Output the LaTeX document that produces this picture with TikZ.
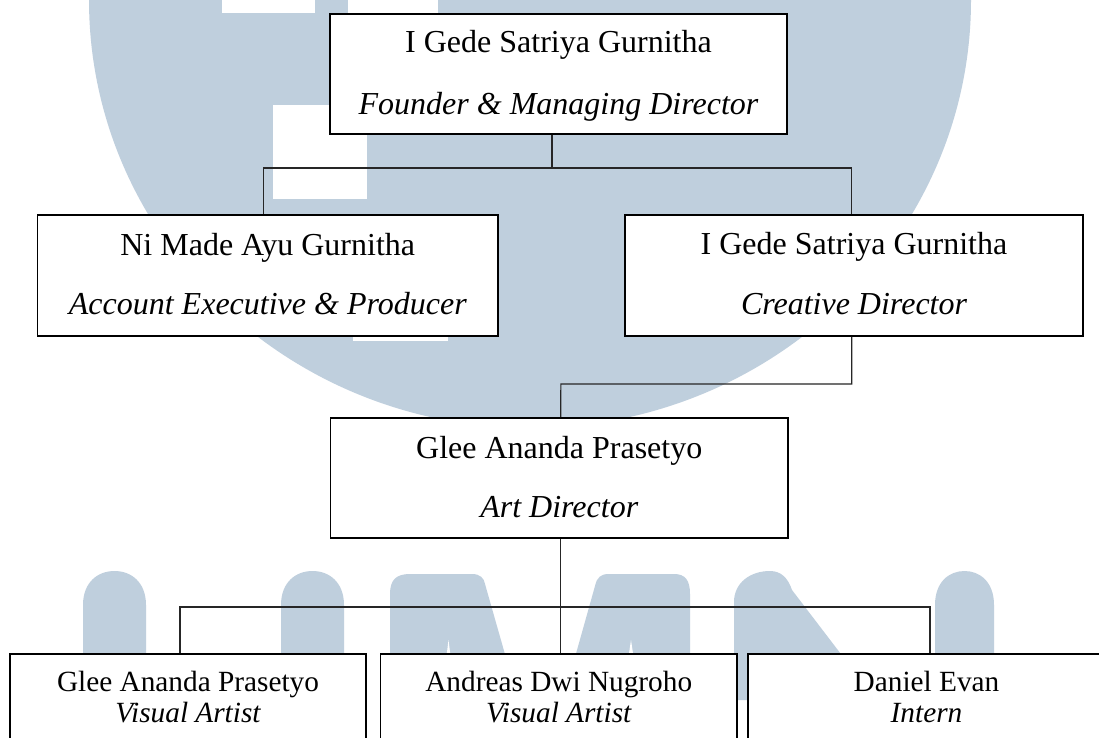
\documentclass[tikz,border=0pt]{standalone}
\usepackage{fontspec}
\setmainfont{Liberation Serif}
\usetikzlibrary{calc}
\definecolor{wm}{RGB}{191,207,221}
\begin{document}
\begin{tikzpicture}[x=1pt,y=-1pt,
  box/.style={draw=black,line width=1.9pt,fill=white,inner sep=0pt,rectangle},
  conn/.style={draw=black!85,line width=1.1pt},
  nm/.style={anchor=base,inner sep=0pt,font=\fontsize{32}{38}\selectfont},
  rl/.style={anchor=base,inner sep=0pt,font=\fontsize{32}{38}\selectfont\itshape},
  nms/.style={anchor=base,inner sep=0pt,font=\fontsize{29.3}{35}\selectfont},
  rls/.style={anchor=base,inner sep=0pt,font=\fontsize{29.3}{35}\selectfont\itshape},
  wmfill/.style={fill=wm,draw=none}]
\useasboundingbox (0,0) rectangle (1099,738);
\clip (0,0) rectangle (1099,738);
\fill[white] (0,0) rectangle (1099,738);
% ---------- watermark ----------
\fill[wmfill] (530,0) ellipse [x radius=441pt, y radius=428pt];
\fill[white] (222,-90) rectangle (315,13);
\fill[white] (348,-90) rectangle (438,13);
\fill[white] (273,105) rectangle (367,199);
\fill[white] (353,247) rectangle (448,341);
% U
\fill[wmfill] (83,700) -- (83,605) .. controls (83,582) and (98,571) .. (114.5,571) .. controls (131,571) and (146,582) .. (146,605) -- (146,700) -- cycle;
\fill[wmfill] (281,700) -- (281,605) .. controls (281,582) and (296,571) .. (312.5,571) .. controls (329,571) and (344,582) .. (344,605) -- (344,700) -- cycle;
% M
\fill[wmfill] (390,700) -- (390,594) .. controls (390,580) and (396,574) .. (410,574) -- (472,574) .. controls (480,574) and (484,578) .. (485,584) -- (518,700) -- cycle;
\fill[white] (446,660) -- (448.5,640) -- (451,660) -- cycle;
\fill[wmfill] (563,700) -- (595,586) .. controls (597,577) and (601,574) .. (609,574) -- (674,574) .. controls (685,574) and (690,580) .. (690,594) -- (690,700) -- cycle;
\fill[white] (628,660) -- (631,640) -- (634,660) -- cycle;
% N
\fill[wmfill] (734,700) -- (734,602) .. controls (734,583) and (750,571) .. (770,571) .. controls (781,571) and (788,578) .. (792,590) -- (876,700) -- cycle;
\fill[wmfill] (935,700) -- (935,605) .. controls (935,582) and (949,571) .. (964.5,571) .. controls (980,571) and (994,582) .. (994,605) -- (994,700) -- cycle;
% ---------- boxes ----------
\node[box, minimum width=457pt, minimum height=120pt] (top) at (558.5,74) {};
\node[box, minimum width=460.5pt, minimum height=121pt] (ni) at (267.75,275.5) {};
\node[box, minimum width=458pt, minimum height=121pt] (cd) at (854,275.5) {};
\node[box, minimum width=457.5pt, minimum height=120pt] (art) at (559.25,478) {};
\node[box, minimum width=356pt, minimum height=110pt] (b1) at (188,709) {};
\node[box, minimum width=356.5pt, minimum height=110pt] (b2) at (558.75,709) {};
\node[box, minimum width=357pt, minimum height=110pt] (b3) at (926.5,709) {};
% ---------- connectors ----------
\coordinate (j1) at (552,168);
\coordinate (j2) at (560.8,384);
\coordinate (j3) at (560.8,607);
\draw[conn] ([xshift=-6.5pt]top.south) -- (j1);
\draw[conn] ([xshift=-4pt]ni.north) |- (j1) -| ([xshift=-2.3pt]cd.north);
\draw[conn] ([xshift=-2.3pt]cd.south) |- (j2) -- ([xshift=1.5pt]art.north);
\draw[conn] ([xshift=1.5pt]art.south) -- ([xshift=2pt]b2.north);
\draw[conn] ([xshift=-8pt]b1.north) |- (j3) -| ([xshift=3.5pt]b3.north);
% ---------- texts ----------
\node[nm] (topn) at ($(top.north)+(0,39)$) {I Gede Satriya Gurnitha};
\node[rl] (topr) at ($(top.north)+(0,101)$) {Founder \& Managing Director};
\node[nm] (nin) at ($(ni.north)+(0,41)$) {Ni Made Ayu Gurnitha};
\node[rl] (nir) at ($(ni.north)+(0,100)$) {Account Executive \& Producer};
\node[nm] (cdn) at ($(cd.north)+(0,40)$) {I Gede Satriya Gurnitha};
\node[rl] (cdr) at ($(cd.north)+(0,100)$) {Creative Director};
\node[nm] (artn) at ($(art.north)+(0,41)$) {Glee Ananda Prasetyo};
\node[rl] (artr) at ($(art.north)+(0,100)$) {Art Director};
\node[nms] (b1n) at ($(b1.north)+(0,38)$) {Glee Ananda Prasetyo};
\node[rls] (b1r) at ($(b1.north)+(0,69)$) {Visual Artist};
\node[nms] (b2n) at ($(b2.north)+(0,38)$) {Andreas Dwi Nugroho};
\node[rls] (b2r) at ($(b2.north)+(0,69)$) {Visual Artist};
\node[nms] (b3n) at ($(b3.north)+(0,38)$) {Daniel Evan};
\node[rls] (b3r) at ($(b3.north)+(0,69)$) {Intern};
\end{tikzpicture}
\end{document}
